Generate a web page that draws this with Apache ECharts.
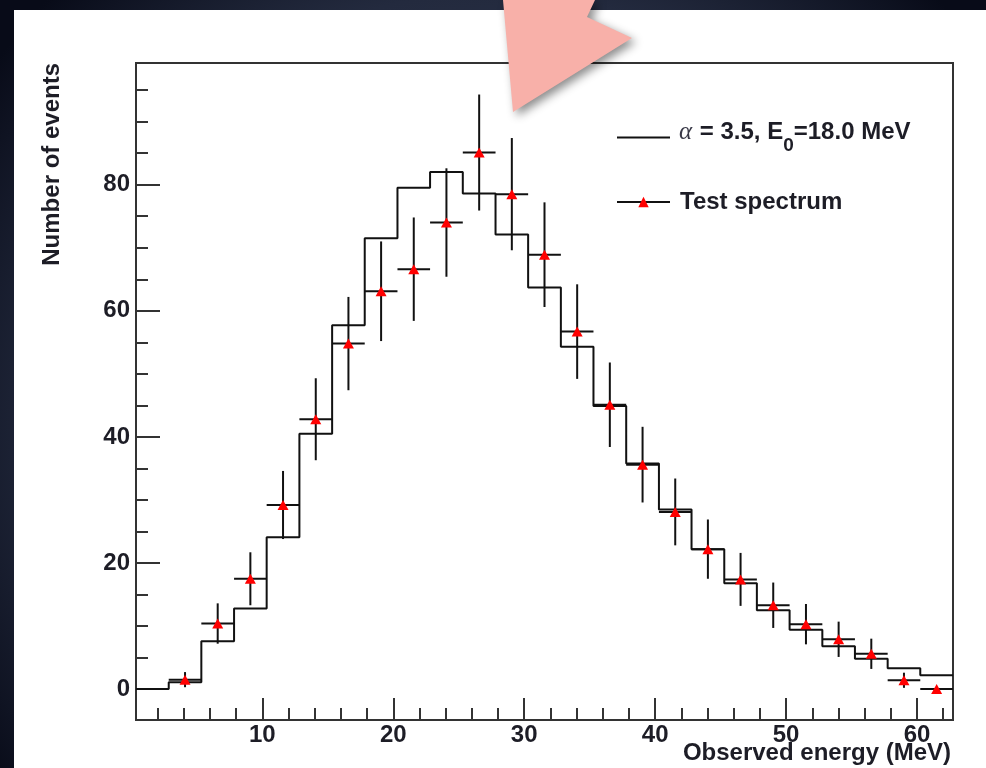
<!DOCTYPE html>
<html>
<head>
<meta charset="utf-8">
<script src="https://cdn.jsdelivr.net/npm/echarts@6/dist/echarts.min.js"></script>
<style>
  html, body { margin: 0; padding: 0; background: #0b1020; }
  #chart { width: 986px; height: 768px; }
</style>
</head>
<body>
<div id="chart"></div>
<script>
// Histogram binning of the observed energy (MeV): 25 bins
const binEdges = [0.35, 2.85, 5.34, 7.84, 10.33, 12.83, 15.33, 17.82, 20.32, 22.81, 25.31,
                  27.81, 30.30, 32.80, 35.29, 37.79, 40.29, 42.78, 45.28, 47.77, 50.27,
                  52.77, 55.26, 57.76, 60.25, 62.75];

// Model spectrum (alpha = 3.5, E0 = 18.0 MeV), one value per bin
const modelCounts = [0, 1.1, 7.6, 12.8, 24.1, 40.5, 57.7, 71.5, 79.5, 82.0, 78.6, 72.1, 63.7,
                     54.3, 44.9, 35.8, 28.5, 22.2, 16.8, 12.5, 9.4, 6.8, 4.8, 3.3, 2.2];

// Test spectrum: bin index, counts and statistical error
const testBinIndex = [1, 2, 3, 4, 5, 6, 7, 8, 9, 10, 11, 12, 13, 14, 15, 16, 17, 18, 19, 20,
                      21, 22, 23, 24];
const testCounts = [1.5, 10.4, 17.5, 29.2, 42.8, 54.8, 63.1, 66.6, 74.0, 85.1, 78.5, 68.9,
                    56.7, 45.1, 35.6, 28.1, 22.2, 17.4, 13.3, 10.3, 7.9, 5.6, 1.4, 0];
const testErrors = [1.2, 3.2, 4.2, 5.4, 6.5, 7.4, 7.9, 8.2, 8.6, 9.2, 8.9, 8.3, 7.5, 6.7,
                    6.0, 5.3, 4.7, 4.2, 3.6, 3.2, 2.8, 2.4, 1.2, 0];

// Axis tick positions
const xMajorTicks = [10, 20, 30, 40, 50, 60];
const xMinorTicks = [2, 4, 6, 8, 12, 14, 16, 18, 22, 24, 26, 28, 32, 34, 36, 38, 42, 44, 46,
                     48, 52, 54, 56, 58, 62];
const yMajorTicks = [0, 20, 40, 60, 80];
const yMinorTicks = [5, 10, 15, 25, 30, 35, 45, 50, 55, 65, 70, 75, 85, 90, 95];

const X_MIN = 0.35, X_MAX = 62.75, Y_MIN = -4.9, Y_MAX = 99.3;

const MODEL_NAME = 'α = 3.5, E0=18.0 MeV';
const TEST_NAME = 'Test spectrum';
// pieces of the model legend label: greek letter, text, subscript, text
const modelLabelParts = ['α', ' = 3.5, E', '0', '=18.0 MeV'];

const FONT = '"Liberation Sans", Arial, Helvetica, sans-serif';
const SERIF = '"Liberation Serif", "DejaVu Serif", serif';
const INK = '#1d1d26';

// step outline: left edge of each bin, closed at the right edge of the last bin
const modelStep = modelCounts.map((v, i) => [binEdges[i], v]);
modelStep.push([binEdges[binEdges.length - 1], modelCounts[modelCounts.length - 1]]);

const testPoints = testBinIndex.map((b, i) => {
  const lo = binEdges[b], hi = binEdges[b + 1];
  return [(lo + hi) / 2, testCounts[i], testErrors[i], lo, hi];
});

// Lay out the model legend label with a real subscript
const measureCtx = document.createElement('canvas').getContext('2d');
function textWidth(str, font) { measureCtx.font = font; return measureCtx.measureText(str).width; }
const labelFonts = ['italic 25px ' + SERIF, 'bold 24px ' + FONT, 'bold 19px ' + FONT, 'bold 24px ' + FONT];
const labelFills = ['#3a3a48', INK, INK, INK];
const labelDy = [0, 0, 13, 0];
const labelX0 = 679, labelY0 = 132.5;
let cursorX = labelX0;
const modelLabelTexts = modelLabelParts.map((part, i) => {
  const el = {
    type: 'text', x: cursorX, y: labelY0 + labelDy[i], silent: true, z: 20,
    style: { text: part, font: labelFonts[i], fill: labelFills[i], align: 'left', verticalAlign: 'middle' }
  };
  cursorX += textWidth(part, labelFonts[i]) + (i === 0 ? 1 : 0);
  return el;
});

const chart = echarts.init(document.getElementById('chart'), null, { renderer: 'canvas' });

const tickAxisBase = (min, max) => ({
  type: 'value', min: min, max: max, splitLine: { show: false }
});

chart.setOption({
  animation: false,
  backgroundColor: {
    type: 'radial', x: 0.5, y: 0.55, r: 0.8,
    colorStops: [
      { offset: 0, color: '#3d4660' },
      { offset: 0.7, color: '#232a3e' },
      { offset: 1, color: '#080b18' }
    ]
  },
  grid: {
    left: 136, right: 33, top: 63, bottom: 48,
    show: true, borderColor: '#333', borderWidth: 2, backgroundColor: 'transparent'
  },
  xAxis: [
    Object.assign(tickAxisBase(X_MIN, X_MAX), {
      position: 'bottom',
      axisLine: { onZero: false, lineStyle: { color: '#333', width: 2 } },
      axisTick: { inside: true, length: 22, customValues: xMajorTicks,
                  lineStyle: { color: '#333', width: 2 } },
      axisLabel: { customValues: xMajorTicks, margin: 3, color: INK,
                   fontSize: 24, fontWeight: 'bold', fontFamily: FONT }
    }),
    Object.assign(tickAxisBase(X_MIN, X_MAX), {
      position: 'bottom',
      axisLine: { show: false, onZero: false },
      axisTick: { inside: true, length: 12, customValues: xMinorTicks,
                  lineStyle: { color: '#333', width: 2 } },
      axisLabel: { show: false }
    })
  ],
  yAxis: [
    Object.assign(tickAxisBase(Y_MIN, Y_MAX), {
      position: 'left',
      axisLine: { show: true, onZero: false, lineStyle: { color: '#333', width: 2 } },
      axisTick: { show: true, inside: true, length: 24, customValues: yMajorTicks,
                  lineStyle: { color: '#333', width: 2 } },
      axisLabel: { customValues: yMajorTicks, margin: 6, color: INK,
                   fontSize: 24, fontWeight: 'bold', fontFamily: FONT }
    }),
    Object.assign(tickAxisBase(Y_MIN, Y_MAX), {
      position: 'left',
      axisLine: { show: false, onZero: false },
      axisTick: { show: true, inside: true, length: 12, customValues: yMinorTicks,
                  lineStyle: { color: '#333', width: 2 } },
      axisLabel: { show: false }
    })
  ],
  legend: [
    {
      // line sample only; the label beside it is laid out in graphic text
      data: [{ name: MODEL_NAME, itemStyle: { color: 'rgba(0,0,0,0)', opacity: 0, borderWidth: 0 } }],
      selectedMode: false,
      orient: 'vertical',
      left: 611, top: 126,
      itemWidth: 53, itemHeight: 13,
      formatter: () => '',
      textStyle: { fontSize: 1 }
    },
    {
      data: [{ name: TEST_NAME }],
      selectedMode: false,
      orient: 'vertical',
      left: 611, top: 185,
      itemWidth: 53, itemHeight: 13,
      lineStyle: { color: '#111', width: 2, opacity: 1 },
      textStyle: { padding: [0, 0, 0, 5], fontFamily: FONT, fontSize: 24,
                   fontWeight: 'bold', color: INK }
    }
  ],
  graphic: [
    {
      type: 'rect', z: -100, silent: true,
      shape: { x: 14, y: 10, width: 972, height: 758 },
      style: { fill: '#ffffff' }
    },
    {
      type: 'text', x: 52, y: 63, rotation: Math.PI / 2, silent: true,
      style: { text: 'Number of events', fill: INK, align: 'right', verticalAlign: 'middle',
               font: 'bold 24px ' + FONT }
    },
    {
      type: 'text', x: 951, y: 741, silent: true,
      style: { text: 'Observed energy (MeV)', fill: INK, align: 'right', verticalAlign: 'top',
               font: 'bold 24px ' + FONT }
    },
    {
      type: 'polygon', z: 100, silent: true,
      shape: { points: [[503, 0], [595, 0], [587, 17], [632, 38], [513, 112]] },
      style: { fill: '#f8b0a9', shadowBlur: 10, shadowColor: 'rgba(0,0,0,0.45)',
               shadowOffsetX: 4, shadowOffsetY: 4 }
    }
  ].concat(modelLabelTexts),
  series: [
    {
      name: MODEL_NAME,
      type: 'line',
      xAxisIndex: 0, yAxisIndex: 0,
      step: 'end',
      symbol: 'none',
      data: modelStep,
      lineStyle: { color: '#111', width: 2 },
      itemStyle: { color: '#111' },
      z: 3
    },
    {
      name: 'test-errors',
      type: 'custom',
      xAxisIndex: 0, yAxisIndex: 0,
      data: testPoints,
      encode: { x: 0, y: 1 },
      renderItem: function (params, api) {
        const x = api.value(0), y = api.value(1), e = api.value(2);
        const lo = api.value(3), hi = api.value(4);
        const pL = api.coord([lo, y]), pR = api.coord([hi, y]);
        const pT = api.coord([x, y + e]), pB = api.coord([x, y - e]);
        const style = { stroke: '#111', lineWidth: 2 };
        return {
          type: 'group',
          children: [
            { type: 'line', shape: { x1: pL[0], y1: pL[1], x2: pR[0], y2: pR[1] }, style: style },
            { type: 'line', shape: { x1: pT[0], y1: pT[1], x2: pB[0], y2: pB[1] }, style: style }
          ]
        };
      },
      z: 4
    },
    {
      name: TEST_NAME,
      type: 'line',
      xAxisIndex: 0, yAxisIndex: 0,
      data: testPoints.map(p => [p[0], p[1]]),
      symbol: 'triangle',
      symbolSize: [11, 10],
      itemStyle: { color: '#ff0000' },
      lineStyle: { opacity: 0 },
      z: 5
    }
  ]
});
</script>
</body>
</html>
